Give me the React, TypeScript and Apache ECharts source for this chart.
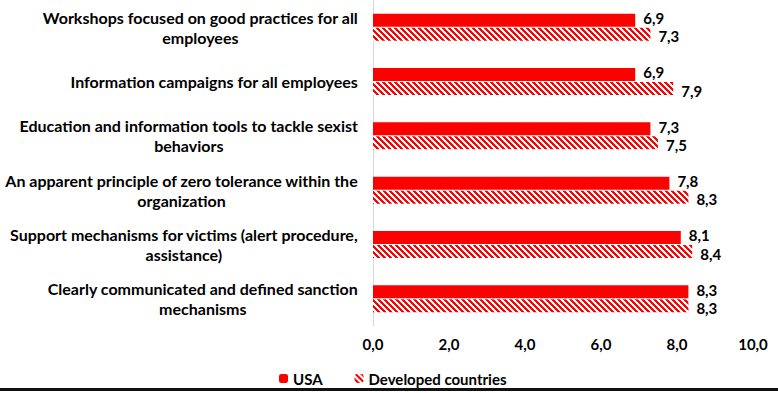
import React, { useEffect, useRef } from "react";
import * as echarts from "echarts";

const categories = [
  "Workshops focused on good practices for all\nemployees",
  "Information campaigns for all employees",
  "Education and information tools to tackle sexist\nbehaviors",
  "An apparent principle of zero tolerance within the\norganization",
  "Support mechanisms for victims (alert procedure,\nassistance)",
  "Clearly communicated and defined sanction\nmechanisms",
];
const usaValues = [6.9, 6.9, 7.3, 7.8, 8.1, 8.3];
const developedValues = [7.3, 7.9, 7.5, 8.3, 8.4, 8.3];
const seriesNames = ["USA", "Developed countries"];
const xTicks = { min: 0, max: 10, interval: 2 };

const FONT = "Lato, 'Open Sans', sans-serif";
const RED = "#ff0000";

function makePattern(): HTMLCanvasElement {
  const size = 6;
  const c = document.createElement("canvas");
  c.width = size;
  c.height = size;
  const ctx = c.getContext("2d")!;
  ctx.fillStyle = "#ffffff";
  ctx.fillRect(0, 0, size, size);
  ctx.fillStyle = RED;
  for (let y = 0; y < size; y++) {
    for (let x = 0; x < size; x++) {
      if ((((x - y) % size) + size) % size < 3) ctx.fillRect(x, y, 1, 1);
    }
  }
  return c;
}

const fmt = (v: number) => v.toFixed(1).replace(".", ",");

export default function App() {
  const ref = useRef<HTMLDivElement>(null);
  useEffect(() => {
    if (!ref.current) return;
    const chart = echarts.init(ref.current, undefined, { renderer: "svg" });
    const pattern = { image: makePattern(), repeat: "repeat" } as any;
    const labelStyle = (dy: number) => ({
      show: true,
      position: "right" as const,
      distance: 8,
      offset: [0, dy],
      fontFamily: FONT,
      fontWeight: "bold" as const,
      fontSize: 15,
      lineHeight: 13,
      color: "#000",
      formatter: (p: any) => fmt(p.value),
    });
    chart.setOption({
      animation: false,
      backgroundColor: "#ffffff",
      grid: { left: 373, right: 25, top: -3, height: 329, containLabel: false },
      legend: {
        left: 279,
        top: 371,
        padding: 0,
        itemWidth: 9,
        itemHeight: 9,
        itemGap: 32,
        textStyle: { fontFamily: FONT, fontWeight: "bold", fontSize: 15, color: "#000" },
        data: seriesNames,
      },
      xAxis: {
        type: "value",
        min: xTicks.min,
        max: xTicks.max,
        interval: xTicks.interval,
        axisLine: { show: false },
        axisTick: { show: false },
        splitLine: { show: false },
        axisLabel: {
          margin: 10,
          fontFamily: FONT,
          fontWeight: "bold",
          fontSize: 15,
          color: "#000",
          formatter: (v: number) => fmt(v),
        },
      },
      yAxis: {
        type: "category",
        inverse: true,
        data: categories,
        axisLine: { show: true, lineStyle: { color: "#d9d9d9", width: 1 } },
        axisTick: { show: false },
        axisLabel: {
          margin: 15,
          align: "right",
          formatter: (v: string) =>
            v
              .split("\n")
              .map((l) => `{c|${l}}`)
              .join("\n"),
          rich: {
            c: {
              align: "center",
              fontFamily: FONT,
              fontWeight: "bold",
              fontSize: 16,
              lineHeight: 20,
              color: "#000",
            },
          },
        },
      },
      series: [
        {
          name: seriesNames[0],
          type: "bar",
          data: usaValues,
          barWidth: 13,
          barGap: "8%",
          itemStyle: { color: RED },
          label: labelStyle(-2),
        },
        {
          name: seriesNames[1],
          type: "bar",
          data: developedValues,
          barWidth: 13,
          itemStyle: { color: pattern },
          label: labelStyle(2),
        },
      ],
      graphic: [
        {
          type: "rect",
          left: 0,
          top: 388,
          shape: { width: 778, height: 3 },
          style: { fill: "#111" },
        },
      ],
    });
    return () => chart.dispose();
  }, []);
  return (
    <div
      ref={ref}
      style={{ position: "fixed", left: 0, top: 0, width: 778, height: 393, background: "#fff" }}
    />
  );
}
